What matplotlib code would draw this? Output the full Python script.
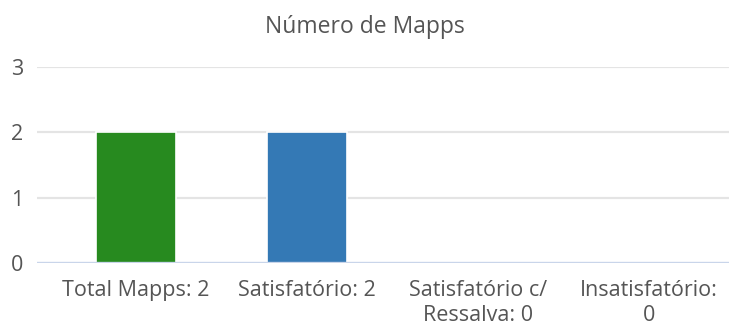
import matplotlib
matplotlib.use("Agg")
from matplotlib import pyplot as plt
import numpy as np

categories = ["Total Mapps", "Satisfatório", "Satisfatório c/ Ressalva", "Insatisfatório"]
tick_labels = ["Total Mapps: 2", "Satisfatório: 2", "Satisfatório c/\nRessalva: 0", "Insatisfatório:\n0"]
values = [2, 2, 0, 0]
colors = ["#278a1f", "#3479b5", "#3479b5", "#3479b5"]
y_ticks = [0, 1, 2, 3]

plt.rcParams["font.family"] = ["Open Sans", "DejaVu Sans"]

fig = plt.figure(figsize=(7.29, 3.29), dpi=100)
ax = fig.add_axes([37 / 729, 66 / 329, 692 / 729, 196 / 329])

x = np.arange(len(categories))
for yv in y_ticks[1:]:
    ax.axhline(yv, color="#e4e4e4", linewidth=1.6, zorder=0)
ax.bar(x, values, width=0.47, color=colors, edgecolor="white", linewidth=1.2, zorder=2)
ax.axhline(0, color="#c9d5ea", linewidth=2.4, zorder=3)

ax.set_xlim(-0.579, 3.468)
ax.set_ylim(0, 3)
ax.set_xticks(x)
ax.set_xticklabels(tick_labels, fontsize=15.5, color="#555555", linespacing=1.3)
ax.set_yticks(y_ticks)
ax.set_yticklabels([str(v) for v in y_ticks], fontsize=15.5, color="#555555")
ax.tick_params(length=0)
ax.tick_params(axis="x", pad=12)
ax.tick_params(axis="y", pad=10)
for s in ax.spines.values():
    s.set_visible(False)

fig.text(0.5, 1 - 27 / 329, "Número de Mapps", ha="center", va="center",
         fontsize=16.5, color="#555555")

fig.savefig("out.png", dpi=100, facecolor="white")
